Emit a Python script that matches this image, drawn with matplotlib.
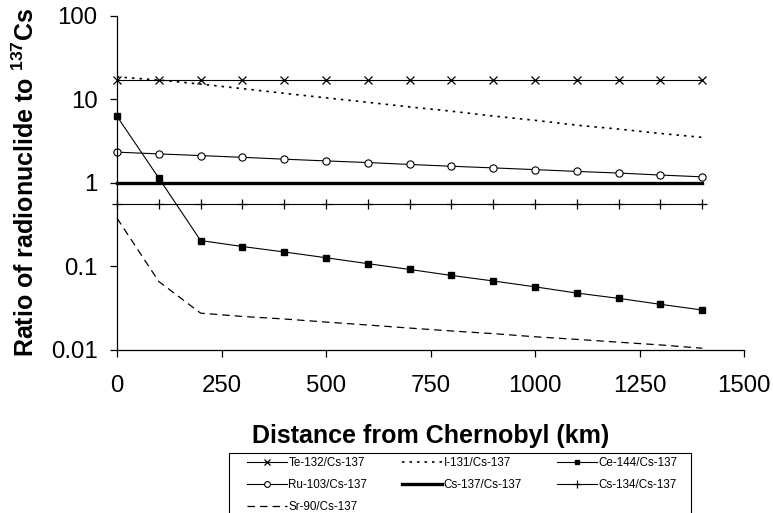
import matplotlib
matplotlib.use("Agg")
import matplotlib.pyplot as plt
from matplotlib.patches import Rectangle
from matplotlib.ticker import FixedLocator, FixedFormatter, NullLocator

plt.rcParams['font.family'] = ['Liberation Sans', 'DejaVu Sans']
plt.rcParams['mathtext.fontset'] = 'custom'
plt.rcParams['mathtext.rm'] = 'Liberation Sans'
plt.rcParams['mathtext.bf'] = 'Liberation Sans:bold'

# Afstand fra Tsjernobyl (km)
distance = [0, 100, 200, 300, 400, 500, 600, 700, 800, 900, 1000, 1100, 1200, 1300, 1400]

# Forhold til Cs-137, lest av figuren
te132 = [17, 17, 17, 17, 17, 17, 17, 17, 17, 17, 17, 17, 17, 17, 17]
i131 = [18.5, 17.0, 15.2, 13.4, 11.8, 10.4, 9.2, 8.1, 7.2, 6.3, 5.6, 4.9, 4.4, 3.9, 3.5]
ce144 = [6.26, 1.14, 0.204, 0.173, 0.149, 0.127, 0.108, 0.092, 0.078, 0.067,
         0.057, 0.048, 0.0415, 0.0352, 0.0301]
ru103 = [2.33, 2.22, 2.12, 2.02, 1.92, 1.83, 1.75, 1.66, 1.58, 1.51, 1.44, 1.37, 1.31, 1.24, 1.18]
cs137 = [1] * 15
cs134 = [0.555] * 15
sr90 = [0.378, 0.066, 0.0276, 0.0252, 0.0235, 0.0216, 0.0199, 0.0183, 0.0169, 0.0157,
        0.0144, 0.0134, 0.0124, 0.0115, 0.0105]

xticks = [0, 250, 500, 750, 1000, 1250, 1500]
yticks = [0.01, 0.1, 1, 10, 100]
ylabels = ['0.01', '0.1', '1', '10', '100']

fig = plt.figure(figsize=(7.73, 5.13), dpi=100)
ax = fig.add_axes([117/773, 1 - 350/513, 627/773, 334.3/513])

kw = dict(color='black', clip_on=False)
l_te, = ax.plot(distance, te132, lw=0.8, marker='x', ms=5.5, mew=0.9, label='Te-132/Cs-137', **kw)
l_i, = ax.plot(distance, i131, lw=1.2, ls=(0, (1.5, 3)), label='I-131/Cs-137', **kw)
l_ce, = ax.plot(distance, ce144, lw=0.8, marker='s', ms=4.3, label='Ce-144/Cs-137', **kw)
l_ru, = ax.plot(distance, ru103, lw=0.8, marker='o', ms=5.2, mfc='white', mew=0.8,
                label='Ru-103/Cs-137', **kw)
l_137, = ax.plot(distance, cs137, lw=2.4, label='Cs-137/Cs-137', **kw)
l_134, = ax.plot(distance, cs134, lw=0.8, marker='+', ms=6.5, mew=0.9, label='Cs-134/Cs-137', **kw)
l_sr, = ax.plot(distance, sr90, lw=0.9, ls=(0, (6, 4)), label='Sr-90/Cs-137', **kw)

ax.set_yscale('log')
ax.set_xlim(0, 1500)
ax.set_ylim(0.01, 100)
ax.xaxis.set_major_locator(FixedLocator(xticks))
ax.yaxis.set_major_locator(FixedLocator(yticks))
ax.yaxis.set_major_formatter(FixedFormatter(ylabels))
ax.yaxis.set_minor_locator(NullLocator())

for side in ['top', 'right']:
    ax.spines[side].set_visible(False)
for side in ['left', 'bottom']:
    ax.spines[side].set_linewidth(0.9)
ax.tick_params(axis='both', direction='out', length=5, width=0.9, labelsize=17.3)
ax.tick_params(axis='x', pad=13)
ax.tick_params(axis='y', pad=9)

ax.set_xlabel('Distance from Chernobyl (km)', fontsize=18, fontweight='bold')
ax.xaxis.set_label_coords(0.5, -0.22)
ax.set_ylabel(r'Ratio of radionuclide to $\mathbf{^{137}}$Cs', fontsize=18, fontweight='bold')
ax.yaxis.set_label_coords(-0.125, 0.5)

# Legende med egen ramme
fig.patches.append(Rectangle((229/773, -0.05), 462/773, 1 - 453/513 + 0.05,
                             transform=fig.transFigure, fill=False, edgecolor='black', lw=0.8))
handles = [l_te, l_ru, l_sr, l_i, l_137, l_ce, l_134]
fig.legend(handles=handles, labels=[h.get_label() for h in handles], ncol=3,
           loc='upper left', bbox_to_anchor=(247/773, 1 - 457/513), frameon=False,
           fontsize=8.4, handlelength=3.4, handletextpad=0.15, columnspacing=3.0,
           labelspacing=0.85, borderpad=0, borderaxespad=0, markerscale=0.8)

fig.savefig('out.png', dpi=100)
